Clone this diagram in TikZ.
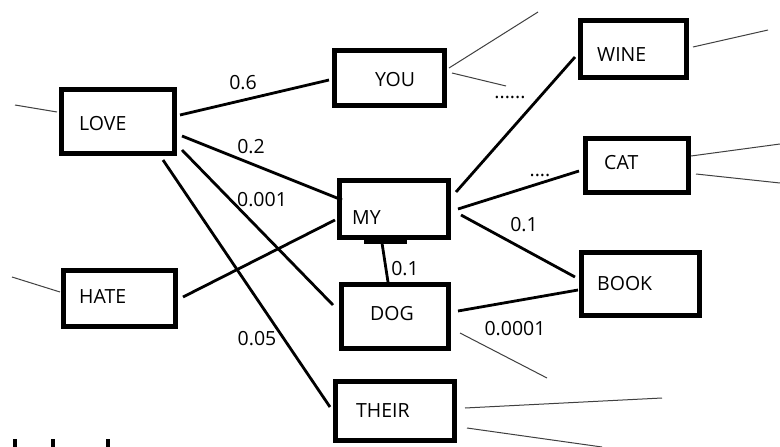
\documentclass[tikz,border=0pt]{standalone}
\usepackage{fontspec}
\setmainfont{Open Sans}
\usetikzlibrary{calc}
\begin{document}
\begin{tikzpicture}[x=1pt,y=-1pt,
  box/.style={draw=black, line width=5pt, inner sep=0pt, rectangle},
  word/.style={anchor=west, inner sep=0pt, font=\fontsize{19.5}{21}\selectfont},
  num/.style={inner sep=0pt, font=\fontsize{19.5}{21}\selectfont},
  edge/.style={draw=black, line width=2.8pt},
  thin/.style={draw=black!75, line width=1pt}]
\useasboundingbox (0,0) rectangle (780,447);
\fill[white] (0,0) rectangle (780,447);

% boxes
\node[box, minimum width=113pt, minimum height=64pt] (love)  at (118,121.5) {};
\node[box, minimum width=110pt, minimum height=55pt] (you)   at (389.5,78) {};
\node[box, minimum width=106pt, minimum height=57pt] (wine)  at (633.5,49) {};
\node[box, minimum width=103pt, minimum height=54pt] (cat)   at (637,165.5) {};
\node[box, minimum width=109pt, minimum height=57pt] (my)    at (394,209) {};
\node[box, minimum width=118pt, minimum height=63pt] (book)  at (640.5,284) {};
\node[box, minimum width=107pt, minimum height=64pt] (dog)   at (395,316.5) {};
\node[box, minimum width=112pt, minimum height=56pt] (hate)  at (119.5,298.5) {};
\node[box, minimum width=119pt, minimum height=59pt] (their) at (395,411) {};

% box texts
\node[word] (tlove)  at (79,124) {LOVE};
\node[word] (tyou)   at (375,80) {YOU};
\node[word] (twine)  at (597,55) {WINE};
\node[word] (tcat)   at (604,163) {CAT};
\node[word] (tmy)    at (352,218) {MY};
\node[word] (tbook)  at (597,284) {BOOK};
\node[word] (tdog)   at (370,313.5) {DOG};
\node[word] (thate)  at (79,296.5) {HATE};
\node[word] (ttheir) at (356,411) {THEIR};

% tab under MY
\fill[black] ($(my)+(-30,31)$) rectangle ($(my)+(13,35)$);

% main edges
\draw[edge] ($(love)+(62,-6.5)$) -- ($(you)+(-60.5,2)$);
\draw[edge] ($(love)+(64,14.5)$) -- ($(my)+(-52,-9)$);
\draw[edge] ($(love)+(64,28.5)$) -- ($(dog)+(-62,-11.5)$);
\draw[edge] ($(love)+(45,38.5)$) -- ($(their)+(-65,-4)$);
\draw[edge] ($(hate)+(63.5,-1.5)$) -- ($(my)+(-59,11)$);
\draw[edge] ($(my)+(-12,34)$) -- ($(dog)+(-7,-34.5)$);
\draw[edge] ($(my)+(62,-17)$) -- ($(wine)+(-58.5,8)$);
\draw[edge] ($(my)+(64,0)$) -- ($(cat)+(-58,5.5)$);
\draw[edge] ($(my)+(67,6)$) -- ($(book)+(-65.5,-7)$);
\draw[edge] ($(dog)+(63,-5.5)$) -- ($(book)+(-62.5,6)$);

% thin stubs
\coordinate (f1) at (15,105);
\coordinate (f2) at (12,277);
\coordinate (f3) at (538,12);
\coordinate (f4) at (506,86);
\coordinate (f5) at (768,30);
\coordinate (f6) at (780,144);
\coordinate (f7) at (780,183);
\coordinate (f8) at (547,378);
\coordinate (f9) at (662,398);
\coordinate (f10) at (602,447);
\draw[thin] ($(love)+(-61,-9.5)$) -- (f1);
\draw[thin] ($(hate)+(-59.5,-6.5)$) -- (f2);
\draw[thin] ($(you)+(59.5,-10)$) -- (f3);
\draw[thin] ($(you)+(62.5,-5)$) -- (f4);
\draw[thin] ($(wine)+(59.5,-2)$) -- (f5);
\draw[thin] ($(cat)+(54,-9.5)$) -- (f6);
\draw[thin] ($(cat)+(59,8.5)$) -- (f7);
\draw[thin] ($(dog)+(65,16.5)$) -- (f8);
\draw[thin] ($(their)+(70,-3)$) -- (f9);
\draw[thin] ($(their)+(72,17)$) -- (f10);

% labels
\node[num] (l06)   at (243,83) {0.6};
\node[num] (l02)   at (251,146.5) {0.2};
\node[num] (l0001) at (262,200) {0.001};
\node[num] (l005)  at (257,339) {0.05};
\node[num] (l01a)  at (405,269) {0.1};
\node[num] (l01b)  at (524,225) {0.1};
\node[num] (l00001) at (515,329) {0.0001};
\node[num, anchor=base] (dots6) at (510,98) {......};
\node[num, anchor=base] (dots4) at (540,176) {....};

% bottom-left marks
\draw[line width=4pt] (15,439) -- (15,447);
\draw[line width=4pt] (53,439) -- (53,447);
\draw[line width=4pt] (108,439) -- (108,447);
\end{tikzpicture}
\end{document}
